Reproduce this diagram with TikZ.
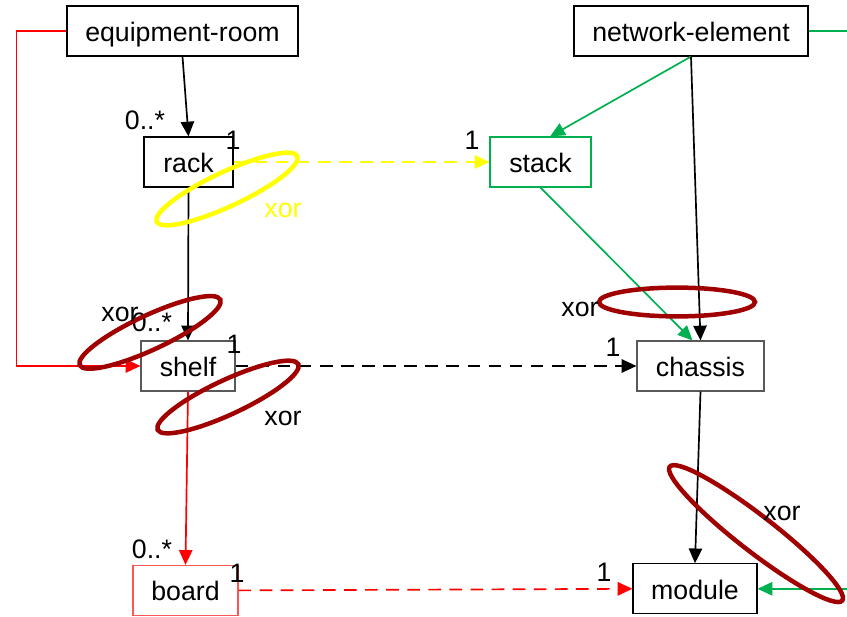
\documentclass[tikz,border=0pt]{standalone}
\usepackage{fontspec}
\setmainfont{Liberation Sans}
\usetikzlibrary{arrows.meta}
\definecolor{xorred}{HTML}{A00000}
\definecolor{linkgreen}{HTML}{00B050}
\definecolor{boardred}{HTML}{FF5555}
\definecolor{xoryellow}{HTML}{FFFF00}
\begin{document}
\begin{tikzpicture}[
  font=\fontsize{19}{22}\selectfont,
  box/.style={rectangle, draw, line width=0.8pt, minimum height=1.25cm,
              inner sep=0pt, text height=15pt, text depth=0pt, align=center},
  graybox/.style={box, draw=black!65},
  arrow/.style={-{Triangle[length=10.5pt,width=9.5pt]}, line width=1.2pt},
  link/.style={arrow, dash pattern=on 9pt off 6pt},
  xorring/.style={draw=xorred, line width=3.2pt},
  mult/.style={inner sep=0pt}
]
  \useasboundingbox (0,0) rectangle (21.175,15.4);

  \node[box, minimum width=5.775cm] (room)    at (4.5625, 14.625) {equipment-room};
  \node[box, minimum width=5.85cm]  (netel)   at (17.275, 14.625) {network-element};
  \node[box, minimum width=2.225cm] (rack)    at (4.7125, 11.35)  {rack};
  \node[box, draw=linkgreen, minimum width=2.525cm] (stack) at (13.5125, 11.35) {stack};
  \node[graybox, minimum width=2.35cm]  (shelf)   at (4.7, 6.25)    {shelf};
  \node[graybox, minimum width=3.175cm] (chassis) at (17.5125, 6.25) {chassis};
  \node[box, draw=boardred, minimum width=2.625cm] (board) at (4.6375, 0.64) {board};
  \node[box, minimum width=3.1cm]   (module)  at (17.375, 0.68)   {module};

  % containment
  \draw[arrow] (room.south)  -- (rack.north);
  \draw[arrow] (rack.south)  -- (shelf.north);
  \draw[arrow, red] (shelf.south) -- (board.north);
  \draw[arrow, red] (room.west) -- ++(-1.25,0) |- (shelf.west);
  \draw[arrow, linkgreen] (netel.south) -- ([xshift=0.24cm]stack.north);
  \draw[arrow] (netel.south) -- (chassis.north);
  \draw[arrow, linkgreen] (stack.south) -- ([xshift=-0.2cm]chassis.north);
  \draw[arrow] (chassis.south) -- (module.north);
  \draw[arrow, linkgreen] (netel.east) -- ++(1.5,0) |- (module.east);

  % placement links
  \draw[link, xoryellow] (rack.east)  -- (stack.west);
  \draw[link]            (shelf.east) -- (chassis.west);
  \draw[link, red]       (board.east) -- (module.west);

  % multiplicities
  \node[mult] (m1) at (3.625, 12.4)   {0..*};
  \node[mult] (m2) at (5.825, 11.9)   {1};
  \node[mult] (m3) at (11.8, 11.9)    {1};
  \node[mult] (m4) at (3.8, 7.35)     {0..*};
  \node[mult] (m5) at (5.85, 6.8)     {1};
  \node[mult] (m6) at (15.325, 6.725) {1};
  \node[mult] (m7) at (3.8, 1.675)    {0..*};
  \node[mult] (m8) at (5.925, 1.075)  {1};
  \node[mult] (m9) at (15.1, 1.1)     {1};

  % xor constraints
  \draw[xorring, draw=xoryellow, rotate around={25:(5.675,10.675)}]
    (5.675,10.675) ellipse (1.94 and 0.43);
  \node[mult, xoryellow] (x1) at (7.075, 10.15) {xor};
  \draw[xorring, rotate around={25:(3.75,7.09)}] (3.75,7.09) ellipse (1.94 and 0.43);
  \node[mult] (x2) at (3.0, 7.55) {xor};
  \draw[xorring, rotate around={25:(5.7,5.475)}] (5.7,5.475) ellipse (1.94 and 0.43);
  \node[mult] (x3) at (7.075, 4.95) {xor};
  \draw[xorring] (16.925,7.85) ellipse (1.95 and 0.36);
  \node[mult] (x4) at (14.5, 7.675) {xor};
  \draw[xorring, rotate around={-37.8:(18.9,2.06)}] (18.9,2.06) ellipse (2.73 and 0.45);
  \node[mult] (x5) at (19.55, 2.575) {xor};

\end{tikzpicture}
\end{document}
